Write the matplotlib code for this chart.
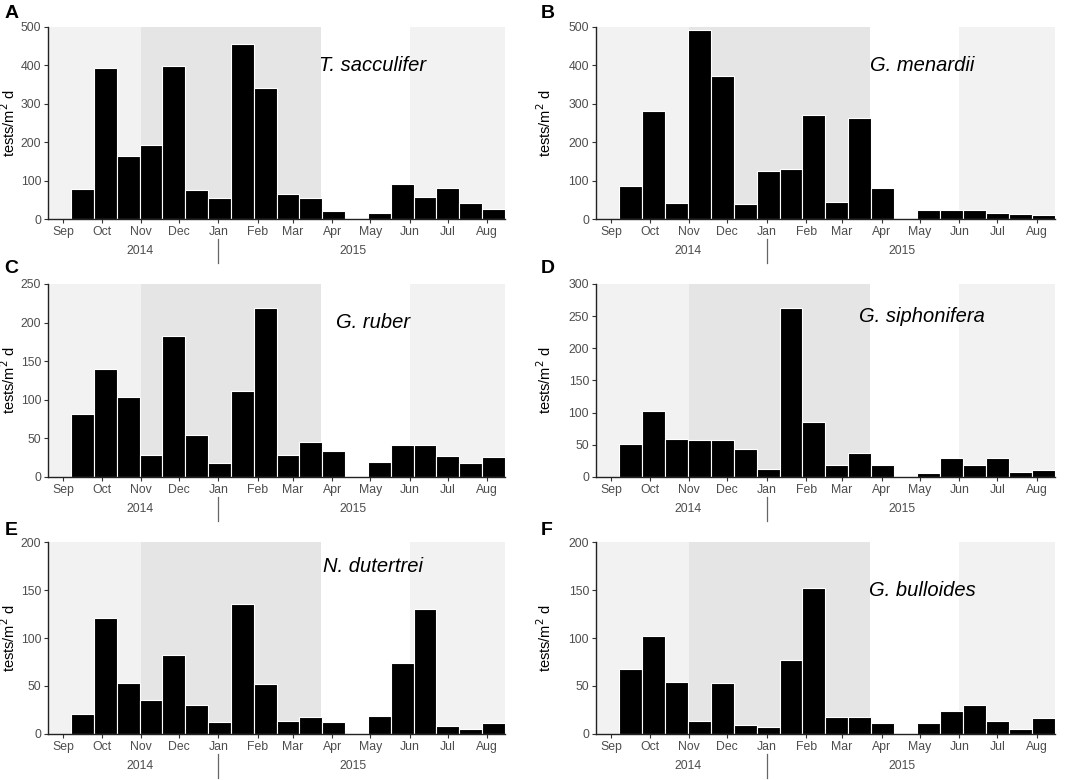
import matplotlib
matplotlib.use("Agg")
import matplotlib.pyplot as plt
import matplotlib.dates as mdates
import matplotlib.transforms as mtransforms
import pandas as pd

plt.rcParams['font.family'] = ['Liberation Sans', 'DejaVu Sans']

# sampling dates (centre of each ~18 day trap interval)
dates = ["2014-08-29", "2014-09-16", "2014-10-04", "2014-10-22", "2014-11-09",
         "2014-11-27", "2014-12-15", "2015-01-02", "2015-01-20", "2015-02-07",
         "2015-02-25", "2015-03-15", "2015-04-02", "2015-04-20", "2015-05-08",
         "2015-05-26", "2015-06-13", "2015-07-01", "2015-07-19", "2015-08-06"]

sacculifer = [0, 78, 392, 163, 194, 398, 75, 56, 456, 341,
              66, 56, 22, 0, 16, 92, 58, 81, 43, 26]
menardii = [0, 85, 280, 43, 491, 373, 40, 124, 129, 270,
            44, 263, 81, 0, 23, 24, 23, 16, 12, 10]
ruber = [0, 82, 140, 104, 28, 182, 54, 18, 112, 219,
         28, 45, 34, 0, 19, 42, 41, 27, 18, 26]
siphonifera = [0, 51, 102, 59, 57, 57, 43, 12, 262, 85,
               19, 38, 18, 0, 6, 30, 18, 30, 7, 11]
dutertrei = [0, 21, 121, 53, 35, 82, 30, 12, 135, 52,
             14, 18, 12, 0, 19, 74, 130, 8, 5, 11]
bulloides = [0, 68, 102, 54, 14, 53, 9, 7, 77, 152,
             18, 18, 11, 0, 11, 24, 30, 14, 5, 17]

species = ["T. sacculifer", "G. menardii", "G. ruber",
           "G. siphonifera", "N. dutertrei", "G. bulloides"]
panel_letters = ["A", "B", "C", "D", "E", "F"]
series = [sacculifer, menardii, ruber, siphonifera, dutertrei, bulloides]
ymax = [500, 500, 250, 300, 200, 200]
ystep = [100, 100, 50, 50, 50, 50]
label_y = [400, 400, 200, 250, 175, 150]

# seasons shading
season_edges = ["2014-11-01", "2015-03-23", "2015-06-01"]
month_ticks = pd.date_range("2014-09-01", "2015-08-01", freq="MS")
year_labels = [("2014", "2014-10-31"), ("2015", "2015-04-17")]
year_break = "2015-01-01"

x = mdates.date2num(pd.to_datetime(dates))
edges = mdates.date2num(pd.to_datetime(season_edges))
width = 18
xlo, xhi = x[0] - width / 2, x[-1] + width / 2

W, H = 1072, 780
fig = plt.figure(figsize=(W / 100, H / 100), dpi=100)
lefts = [0.045, 0.556]
rights = [0.471, 0.984]
rows = [(0.7192, 0.9654), (0.3885, 0.6359), (0.0590, 0.3051)]
letter_base = [0.977, 0.650, 0.314]
ylab_x = [18 / W, 554 / W]

for k in range(6):
    r, c = divmod(k, 2)
    b, t = rows[r]
    ax = fig.add_axes([lefts[c], b, rights[c] - lefts[c], t - b])
    ax.set_facecolor("white")
    ax.axvspan(xlo, edges[0], color="#f2f2f2", lw=0, zorder=0)
    ax.axvspan(edges[0], edges[1], color="#e5e5e5", lw=0, zorder=0)
    ax.axvspan(edges[2], xhi, color="#f2f2f2", lw=0, zorder=0)
    ax.bar(x, series[k], width=width, color="black", edgecolor="white",
           linewidth=0.8, zorder=2)
    ax.set_xlim(xlo, xhi)
    ax.set_ylim(0, ymax[k])
    ax.set_yticks(range(0, ymax[k] + 1, ystep[k]))
    ax.set_xticks(mdates.date2num(month_ticks))
    ax.set_xticklabels([d.strftime("%b") for d in month_ticks])
    for s in ["top", "right"]:
        ax.spines[s].set_visible(False)
    for s in ["left", "bottom"]:
        ax.spines[s].set_color("#222222")
        ax.spines[s].set_linewidth(1.0)
    ax.tick_params(length=3, width=0.8, color="#333333", labelcolor="#4d4d4d",
                   labelsize=8.8, pad=2)
    ax.set_ylabel("tests/m$^2$ d", fontsize=10.5)
    ax.yaxis.set_label_coords(ylab_x[c], (b + t) / 2, transform=fig.transFigure)
    ax.text(mdates.date2num(pd.Timestamp("2015-05-03")), label_y[k], species[k],
            style="italic", fontsize=14.5, ha="center", va="center", zorder=3)

    trans = mtransforms.blended_transform_factory(ax.transData, ax.transAxes)
    for txt, d in year_labels:
        ax.text(mdates.date2num(pd.Timestamp(d)), -0.165, txt, transform=trans,
                ha="center", va="center", fontsize=8.8, color="#4d4d4d")
    xb = mdates.date2num(pd.Timestamp(year_break))
    ax.plot([xb, xb], [-0.105, -0.23], transform=trans, color="#666666",
            lw=0.9, clip_on=False)

    fx = 0.004 if c == 0 else 0.504
    fig.text(fx, letter_base[r], panel_letters[k], fontsize=14,
             fontweight="bold", va="baseline", ha="left")

fig.savefig("out.png", dpi=100)
